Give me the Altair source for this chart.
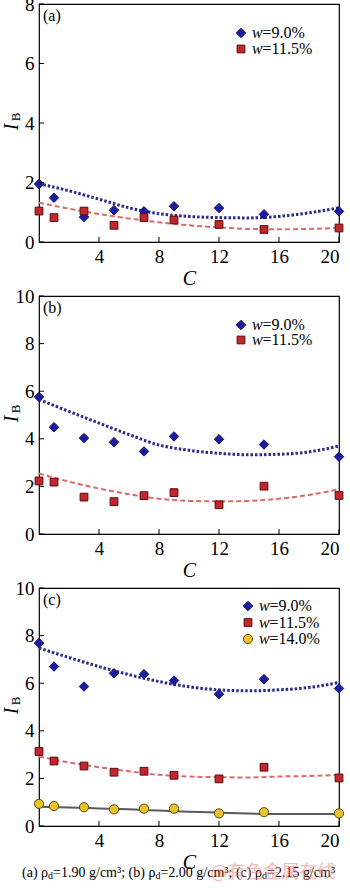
import altair as alt
import pandas as pd

# ---------------- data ----------------
C_VALUES = [0, 1, 3, 5, 7, 9, 12, 15, 20]
C_FIT = [0, 2, 4, 6, 8, 10, 12, 14, 16, 18, 20]
X_LABELS = [4, 8, 12, 16, 20]

A_W90 = [1.95, 1.49, 0.84, 1.07, 1.03, 1.20, 1.14, 0.93, 1.03]
A_W115 = [1.04, 0.82, 1.04, 0.56, 0.82, 0.74, 0.59, 0.42, 0.47]
A_FIT_W90 = [1.96, 1.72, 1.44, 1.15, 0.95, 0.86, 0.82, 0.81, 0.86, 0.98, 1.15]
A_FIT_W115 = [1.32, 1.12, 0.94, 0.79, 0.66, 0.56, 0.49, 0.44, 0.43, 0.44, 0.48]

B_W90 = [5.76, 4.49, 4.03, 3.86, 3.47, 4.10, 3.98, 3.76, 3.25]
B_W115 = [2.23, 2.18, 1.55, 1.36, 1.61, 1.74, 1.23, 2.01, 1.62]
B_FIT_W90 = [5.65, 5.15, 4.66, 4.18, 3.74, 3.52, 3.39, 3.33, 3.35, 3.45, 3.70]
B_FIT_W115 = [2.54, 2.20, 1.91, 1.67, 1.48, 1.39, 1.37, 1.39, 1.48, 1.64, 1.88]

C_W90 = [7.69, 6.70, 5.86, 6.42, 6.38, 6.11, 5.54, 6.17, 5.78]
C_W115 = [3.13, 2.73, 2.52, 2.26, 2.30, 2.13, 1.98, 2.47, 2.02]
C_W140 = [0.93, 0.84, 0.79, 0.70, 0.73, 0.73, 0.53, 0.58, 0.53]
C_FIT_W90 = [7.48, 7.08, 6.70, 6.36, 6.07, 5.85, 5.72, 5.68, 5.72, 5.82, 6.03]
C_FIT_W115 = [2.92, 2.67, 2.47, 2.30, 2.15, 2.08, 2.05, 2.04, 2.08, 2.10, 2.15]
C_FIT_W140 = [0.81, 0.78, 0.74, 0.70, 0.65, 0.60, 0.56, 0.52, 0.50, 0.50, 0.50]

LEGEND_LABELS = {"w90": "=9.0%", "w115": "=11.5%", "w140": "=14.0%"}
CAPTION = ["(a) ρ", "d", "=1.90 g/cm³; (b) ρ", "d", "=2.00 g/cm³; (c) ρ", "d", "=2.15 g/cm³"]
WATERMARK = "@有色金属在线"

# ---------------- styling ----------------
FONT = "Liberation Serif, Times New Roman, DejaVu Serif, serif"
W, H = 300, 238
POINT_STYLE = {
    "w90": dict(shape="diamond", fill="#1c1ca0", stroke="#12126e", size=90),
    "w115": dict(shape="square", fill="#c4262e", stroke="#5a0c0e", size=60),
    "w140": dict(shape="circle", fill="#e6c42a", stroke="#5c4c0c", size=85),
}
LINE_STYLE = {
    "w90": dict(color="#2a2a8c", strokeDash=[2.5, 2], strokeWidth=3),
    "w115": dict(color="#e06868", strokeDash=[5, 3], strokeWidth=2),
    "w140": dict(color="#5a5a5a", strokeWidth=2),
}


def panel(tag, ymax, pts, fits, leg_x, leg_y0, leg_dy, caption=False):
    yticks = list(range(0, ymax + 1, 2))
    x_enc = alt.X(
        "C:Q",
        scale=alt.Scale(domain=[0, 20], nice=False),
        axis=alt.Axis(values=X_LABELS, title="C", ticks=False, domain=False, grid=False,
                      labelFont=FONT, labelFontSize=19, labelPadding=5, labelColor="black",
                      titleFont=FONT, titleFontSize=20, titleFontStyle="italic",
                      titleFontWeight="normal", titlePadding=2, titleColor="black"),
    )
    y_enc = alt.Y(
        "IB:Q",
        scale=alt.Scale(domain=[0, ymax], nice=False),
        axis=alt.Axis(values=yticks, title=None, ticks=False, domain=False, grid=False,
                      labelFont=FONT, labelFontSize=19, labelPadding=5, labelColor="black",
                      labelFlush=False),
    )
    layers = []
    for key, vals in fits:
        df = pd.DataFrame({"C": C_FIT, "IB": vals})
        layers.append(alt.Chart(df).mark_line(interpolate="monotone", **LINE_STYLE[key])
                      .encode(x=x_enc, y=y_enc))
    for key, vals in pts:
        df = pd.DataFrame({"C": C_VALUES, "IB": vals})
        layers.append(alt.Chart(df).mark_point(filled=True, opacity=1, strokeWidth=1,
                                               **POINT_STYLE[key])
                      .encode(x=x_enc, y=y_enc))
    layers.append(alt.Chart(pd.DataFrame({"IB": yticks})).mark_rule(color="black", strokeWidth=1)
                  .encode(y=y_enc, x=alt.value(0), x2=alt.value(5)))
    layers.append(alt.Chart(pd.DataFrame({"C": X_LABELS})).mark_rule(color="black", strokeWidth=1)
                  .encode(x=x_enc, y=alt.value(H), y2=alt.value(H - 5)))
    for i, (key, _) in enumerate(pts):
        yy = leg_y0 + i * leg_dy
        layers.append(alt.Chart(pd.DataFrame({"k": [key]})).mark_point(filled=True, opacity=1, strokeWidth=1,
                                                                        **POINT_STYLE[key])
                      .encode(x=alt.value(leg_x), y=alt.value(yy)))
        layers.append(alt.Chart(pd.DataFrame({"t": ["w"]})).mark_text(
            font=FONT, fontSize=16, fontStyle="italic", align="left", baseline="middle", color="black")
            .encode(text="t:N", x=alt.value(leg_x + 11), y=alt.value(yy)))
        layers.append(alt.Chart(pd.DataFrame({"t": [LEGEND_LABELS[key]]})).mark_text(
            font=FONT, fontSize=16, align="left", baseline="middle", color="black")
            .encode(text="t:N", x=alt.value(leg_x + 21.5), y=alt.value(yy)))
    layers.append(alt.Chart(pd.DataFrame({"t": [tag]})).mark_text(
        font=FONT, fontSize=16, align="left", baseline="middle", color="black")
        .encode(text="t:N", x=alt.value(4), y=alt.value(12)))
    layers.append(alt.Chart(pd.DataFrame({"t": ["I"]})).mark_text(
        font=FONT, fontSize=20, fontStyle="italic", angle=270, align="center", baseline="middle",
        color="black").encode(text="t:N", x=alt.value(-27), y=alt.value(123)))
    layers.append(alt.Chart(pd.DataFrame({"t": ["B"]})).mark_text(
        font=FONT, fontSize=13, angle=270, align="center", baseline="middle",
        color="black").encode(text="t:N", x=alt.value(-23), y=alt.value(113)))
    if caption:
        xs = []
        x = -17.0
        widths = [26.1, 5.0, 102.3, 5.0, 101.6, 5.0, 68.1]
        for w in widths:
            xs.append(x)
            x += w
        for seg, xx in zip(CAPTION, xs):
            sub = seg == "d"
            layers.append(alt.Chart(pd.DataFrame({"t": [seg]})).mark_text(
                font=FONT, fontSize=10 if sub else 14, align="left", baseline="middle",
                color="black").encode(text="t:N", x=alt.value(xx), y=alt.value(285 + (3 if sub else 0))))
        layers.append(alt.Chart(pd.DataFrame({"t": [WATERMARK]})).mark_text(
            font="Noto Sans CJK SC", fontSize=18, align="center", baseline="middle",
            color="#f08a8a", opacity=0.6).encode(text="t:N", x=alt.value(234), y=alt.value(285)))
    return alt.layer(*layers).properties(width=W, height=H)


pa = panel("(a)", 8, [("w90", A_W90), ("w115", A_W115)],
           [("w90", A_FIT_W90), ("w115", A_FIT_W115)], 202, 29, 16)
pb = panel("(b)", 10, [("w90", B_W90), ("w115", B_W115)],
           [("w90", B_FIT_W90), ("w115", B_FIT_W115)], 202, 29, 15)
pc = panel("(c)", 10, [("w90", C_W90), ("w115", C_W115), ("w140", C_W140)],
           [("w90", C_FIT_W90), ("w115", C_FIT_W115), ("w140", C_FIT_W140)], 209, 18, 16.5,
           caption=True)

chart = (
    alt.vconcat(pa, pb, pc, spacing=54, bounds="flush")
    .properties(padding={"left": 1, "top": -6, "right": 0, "bottom": 0}, background="white")
    .configure_view(stroke="black", strokeWidth=1.2)
)

chart.save("out.html", embed_options={"renderer": "svg", "actions": False})
